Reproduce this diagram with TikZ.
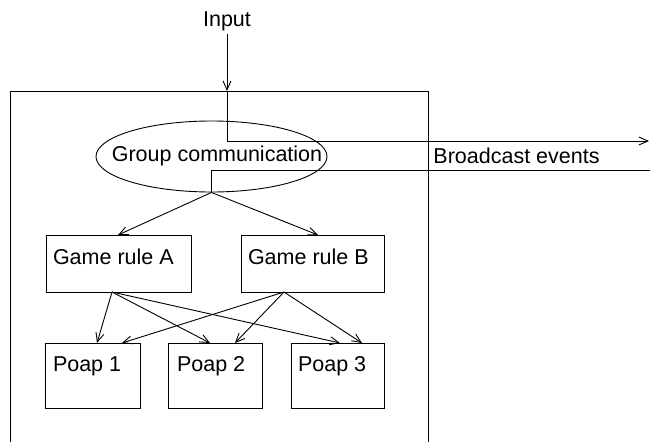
\documentclass[tikz,border=0pt]{standalone}
\usepackage{fontspec}
\setmainfont{Liberation Sans}
\usetikzlibrary{arrows.meta,shapes.geometric,calc}
\begin{document}
\begin{tikzpicture}[x=1pt,y=-1pt, line width=0.9pt,
  every node/.style={font=\fontsize{21.5}{26}\selectfont},
  box/.style={draw, rectangle, inner sep=0pt},
  lbl/.style={anchor=base west, inner sep=0pt},
  arr/.style={-{Straight Barb[length=9pt,width=8pt]}}]
\useasboundingbox (0,0) rectangle (650,442);
% frame
\coordinate (fBL) at (10,442);
\coordinate (fTL) at (10,91);
\coordinate (fTR) at (428,91);
\coordinate (fBR) at (428,442);
\draw (fBL) -- (fTL) -- (fTR) -- (fBR);
% input
\node[anchor=base, inner sep=3pt] (in) at (227,26) {Input};
\coordinate (inEnd) at (227,91);
\coordinate (bcOut) at (649,141);
\coordinate (bcIn) at (650,170);
\draw[arr] (in.south) -- (inEnd);
\draw[arr] (inEnd) |- (bcOut);
% group communication
\node[draw, ellipse, minimum width=231, minimum height=71, inner sep=0pt] (gc) at (211.5,156.5) {};
\node[anchor=base, inner sep=0pt] (gctxt) at (217,161) {Group communication};
\draw (gc.south) |- (bcIn);
\node[lbl] (bc) at (433,163) {Broadcast events};
% game rules
\node[box, minimum width=145, minimum height=57] (A) at (118.5,263.5) {};
\node[box, minimum width=143, minimum height=57] (B) at (312.5,263.5) {};
\node[lbl] (Atxt) at ($(A.north west)+(7,30)$) {Game rule A};
\node[lbl] (Btxt) at ($(B.north west)+(7,30)$) {Game rule B};
\coordinate (aIn) at (118,235);
\coordinate (bIn) at (318,235);
\draw[arr] (gc.south) -- (aIn);
\draw[arr] (gc.south) -- (bIn);
% poaps
\node[box, minimum width=95, minimum height=65] (P1) at (92.5,375.5) {};
\node[box, minimum width=94, minimum height=65] (P2) at (215,375.5) {};
\node[box, minimum width=93, minimum height=65] (P3) at (337.5,375.5) {};
\node[lbl] (P1txt) at ($(P1.north west)+(8,29)$) {Poap 1};
\node[lbl] (P2txt) at ($(P2.north west)+(9,29)$) {Poap 2};
\node[lbl] (P3txt) at ($(P3.north west)+(7,29)$) {Poap 3};
% connectors
\coordinate (As) at (112,292);
\coordinate (Bs) at (284,292);
\coordinate (p1a) at (97,343);
\coordinate (p2a) at (210,343);
\coordinate (p3a) at (340,343);
\coordinate (p1b) at (122,343);
\coordinate (p2b) at (235,343);
\coordinate (p3b) at (362,343);
\draw[arr] (As) -- (p1a);
\draw[arr] (As) -- (p2a);
\draw[arr] (As) -- (p3a);
\draw[arr] (Bs) -- (p1b);
\draw[arr] (Bs) -- (p2b);
\draw[arr] (Bs) -- (p3b);
\end{tikzpicture}
\end{document}
